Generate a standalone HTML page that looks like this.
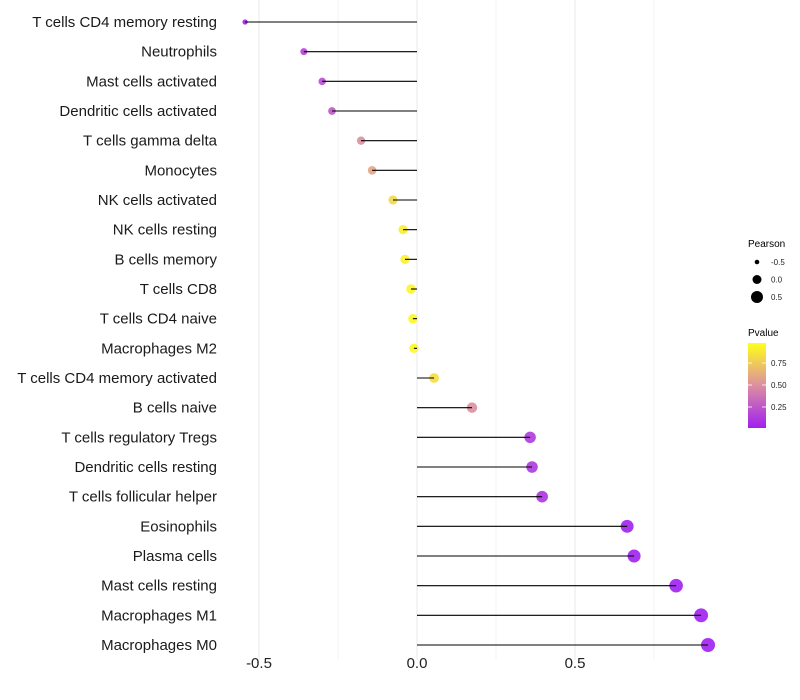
<!DOCTYPE html>
<html><head><meta charset="utf-8"><style>
body{margin:0;background:#fff;}
svg{display:block;font-family:"Liberation Sans",Arial,sans-serif;}
</style></head><body>
<svg id="chart" width="800" height="700" viewBox="0 0 800 700" xmlns="http://www.w3.org/2000/svg">
<g id="grid"></g>
<g id="ylabels"></g>
<g id="marks"></g>
<g id="xticks"></g>
<g id="legend">
  <text x="748" y="247" font-size="10">Pearson</text>
  <g id="sizeLegend"></g>
  <text x="748" y="336" font-size="10">Pvalue</text>
  <defs><linearGradient id="pg" x1="0" y1="1" x2="0" y2="0">
    <stop offset="0" stop-color="#a020f0"/><stop offset="0.5" stop-color="#dc8fa0"/><stop offset="1" stop-color="#ffff1a"/>
  </linearGradient></defs>
  <rect x="748" y="343" width="18" height="85" fill="url(#pg)"/>
  <g id="cbTicks"></g>
</g>
</svg>
<script>
const categories = ["T cells CD4 memory resting","Neutrophils","Mast cells activated","Dendritic cells activated","T cells gamma delta","Monocytes","NK cells activated","NK cells resting","B cells memory","T cells CD8","T cells CD4 naive","Macrophages M2","T cells CD4 memory activated","B cells naive","T cells regulatory  Tregs ","Dendritic cells resting","T cells follicular helper","Eosinophils","Plasma cells","Mast cells resting","Macrophages M1","Macrophages M0"];
const pearson = [-0.544,-0.358,-0.30,-0.269,-0.177,-0.142,-0.076,-0.044,-0.038,-0.019,-0.013,-0.010,0.054,0.174,0.358,0.364,0.396,0.665,0.687,0.82,0.899,0.921];
const pvalue = [0.01,0.15,0.2,0.25,0.5,0.6,0.82,0.92,0.94,0.96,0.97,0.97,0.85,0.5,0.12,0.11,0.09,0.002,0.001,0.0005,0.0001,0.0001];
const xTicks = [-0.5,0,0.5];
const xTickLabels = ["-0.5","0.0","0.5"];
const xMinor = [-0.25,0.25,0.75];
const sizeLegendValues = [-0.5,0,0.5];
const sizeLegendLabels = ["-0.5","0.0","0.5"];
const cbValues = [0.25,0.5,0.75];
const cbLabels = ["0.25","0.50","0.75"];

const NS="http://www.w3.org/2000/svg";
const xS=v=>417+v*316;
const yS=i=>22+i*(623/21);
const rS=v=>Math.sqrt(Math.max(3,22.6+28.7*v));
function lerp(a,b,t){return a.map((x,i)=>Math.round(x+(b[i]-x)*t));}
function col(p){const lo=[160,32,240],mid=[220,143,160],hi=[255,255,26];
 const c=p<0.5?lerp(lo,mid,p/0.5):lerp(mid,hi,(p-0.5)/0.5);return `rgb(${c.join(',')})`;}
function mk(tag,attrs,parent){const e=document.createElementNS(NS,tag);for(const k in attrs)e.setAttribute(k,attrs[k]);parent.appendChild(e);return e;}
const grid=document.getElementById('grid');
xMinor.forEach(v=>{const l=mk('line',{x1:xS(v),x2:xS(v),y1:0,y2:660,stroke:'#ebebeb','stroke-width':0.6},grid);

});
xTicks.forEach(v=>{const l=mk('line',{x1:xS(v),x2:xS(v),y1:0,y2:660,stroke:'#ebebeb','stroke-width':1.1},grid);

});
const xt=document.getElementById('xticks');
xTicks.forEach((v,i)=>{const t=mk('text',{x:xS(v),y:668,'font-size':15,'text-anchor':'middle',fill:'#222'},xt);t.textContent=xTickLabels[i];

});
const yl=document.getElementById('ylabels'),mg=document.getElementById('marks');
categories.forEach((c,i)=>{
 const t=mk('text',{x:217,y:yS(i)+5,'font-size':15,'text-anchor':'end',fill:'#1a1a1a','xml:space':'preserve'},yl);t.textContent=c;
 
 
 const p=mk('circle',{cx:xS(pearson[i]),cy:yS(i),r:rS(pearson[i]),fill:col(pvalue[i]),'fill-opacity':0.9},mg);
 
 
 const l=mk('line',{x1:xS(0),x2:xS(pearson[i]),y1:yS(i),y2:yS(i),stroke:'#000','stroke-width':1.1},mg);
 
 
});
const sl=document.getElementById('sizeLegend');
sizeLegendValues.forEach((v,i)=>{const y=262+i*17.5;
 const c=mk('circle',{cx:757,cy:y,r:[2.3,4.5,6][i],fill:'#000'},sl);
 
 
 const t=mk('text',{x:771,y:y+3,'font-size':8,fill:'#222'},sl);t.textContent=sizeLegendLabels[i];
 
 });
const cb=document.getElementById('cbTicks');
cbValues.forEach((v,i)=>{const y=429-v*88;
 const a=mk('line',{x1:748,x2:752,y1:y,y2:y,stroke:'#fff','stroke-width':0.8},cb);
 
 
 const b=mk('line',{x1:762,x2:766,y1:y,y2:y,stroke:'#fff','stroke-width':0.8},cb);
 
 
 const t=mk('text',{x:771,y:y+3,'font-size':8,fill:'#222'},cb);t.textContent=cbLabels[i];
 
 });
</script>
</body></html>
